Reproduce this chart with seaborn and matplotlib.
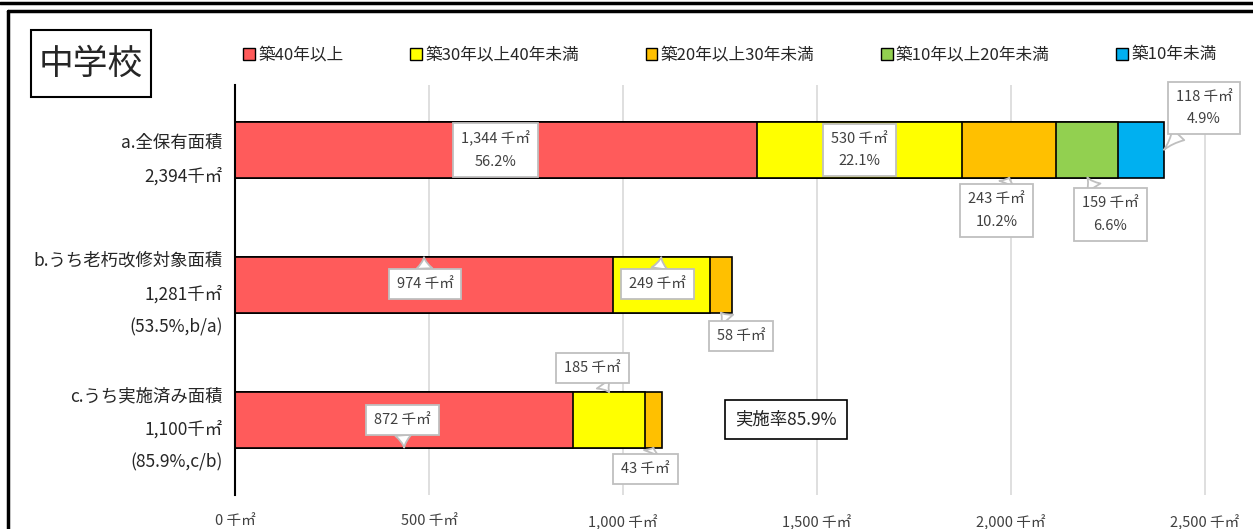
import numpy as np
import pandas as pd
import seaborn as sns
import matplotlib
matplotlib.use("Agg")
import matplotlib.pyplot as plt
from matplotlib.patches import Rectangle, Patch
from matplotlib.lines import Line2D

sns.set_theme(style="white")
plt.rcParams['font.family'] = ['Noto Sans CJK JP', 'DejaVu Sans']

# --- data -------------------------------------------------------------
categories = ["a.全保有面積\n2,394千㎡",
              "b.うち老朽改修対象面積\n1,281千㎡\n(53.5%,b/a)",
              "c.うち実施済み面積\n1,100千㎡\n(85.9%,c/b)"]
series_names = ["築40年以上", "築30年以上40年未満", "築20年以上30年未満",
                "築10年以上20年未満", "築10年未満"]
over40 = [1344, 974, 872]
y30_40 = [530, 249, 185]
y20_30 = [243, 58, 43]
y10_20 = [159, 0, 0]
under10 = [118, 0, 0]
share_a = [56.2, 22.1, 10.2, 6.6, 4.9]
x_ticks = [0, 500, 1000, 1500, 2000, 2500]
rate_text = "実施率85.9%"
title_text = "中学校"

colors = ["#FF5B5B", "#FFFF00", "#FFC000", "#92D050", "#00B0F0"]

series = [over40, y30_40, y20_30, y10_20, under10]
vals = np.array(series, dtype=float)          # shape (5, 3)
cum = np.cumsum(vals, axis=0)

W, H = 1253, 529
fig = plt.figure(figsize=(W / 100, H / 100), dpi=100)
fig.patch.set_facecolor("white")

ax_left, ax_right = 235 / W, 1240 / W
ax_top, ax_bot = 1 - 85 / H, 1 - 495 / H
ax = fig.add_axes([ax_left, ax_bot, ax_right - ax_left, ax_top - ax_bot])

# stacked bars: draw cumulative totals from the outermost segment inward
for i in range(len(series) - 1, -1, -1):
    df = pd.DataFrame({"cat": categories, "val": cum[i]})
    df.loc[vals[i] <= 0, "val"] = 0
    sns.barplot(data=df, x="val", y="cat", orient="h", color=colors[i],
                saturation=1, edgecolor="black", linewidth=1.2, width=0.41,
                ax=ax, zorder=3)

ax.set_xlim(0, 2590)
ax.set_ylim(2.556, -0.48)
ax.set_xlabel("")
ax.set_ylabel("")
ax.set_xticks(x_ticks)
ax.set_xticklabels([f"{t:,} 千㎡" for t in x_ticks], fontsize=10.5, color="#404040")
ax.tick_params(axis="x", length=0, pad=14)
ax.tick_params(axis="y", length=0, pad=9)
for t in ax.get_yticklabels():
    t.set_fontsize(12.5)
    t.set_linespacing(2.05)
    t.set_multialignment("right")
    t.set_color("#262626")
ax.grid(axis="x", color="#d9d9d9", linewidth=1.2, zorder=0)
for s in ["top", "right", "bottom"]:
    ax.spines[s].set_visible(False)
ax.spines["left"].set_color("black")
ax.spines["left"].set_linewidth(1.5)
ax.spines["left"].set_zorder(5)

# --- callout labels ---------------------------------------------------
half = 0.41 / 2
box = dict(boxstyle="square,pad=0.55", fc="white", ec="#bfbfbf", lw=1.3)
tail = dict(arrowstyle="wedge,tail_width=1.1,shrink_factor=0.35",
            fc="white", ec="#bfbfbf", lw=1.3, shrinkA=0, shrinkB=0)


def seg_center(i, j):
    return cum[i, j] - vals[i, j] / 2


def callout(text, xy, off, with_tail=True):
    ax.annotate(text, xy=xy, xytext=off, textcoords="offset pixels",
                ha="center", va="center", fontsize=10.5, color="#404040",
                linespacing=1.75, bbox=box,
                arrowprops=tail if with_tail else None, zorder=6)


def lab(v, p=None):
    s = f"{int(v):,} 千㎡"
    return s if p is None else f"{s}\n{p}%"


# bar a
callout(lab(vals[0, 0], share_a[0]), (seg_center(0, 0), 0), (0, 0), False)
callout(lab(vals[1, 0], share_a[1]), (seg_center(1, 0), 0), (0, 0), False)
callout(lab(vals[2, 0], share_a[2]), (seg_center(2, 0), half), (-13, -33))
callout(lab(vals[3, 0], share_a[3]), (seg_center(3, 0), half), (23, -37))
callout(lab(vals[4, 0], share_a[4]), (cum[4, 0], 0), (40, 42))
# bar b
callout(lab(vals[0, 1]), (seg_center(0, 1), 1 - half), (1, -27))
callout(lab(vals[1, 1]), (seg_center(1, 1), 1 - half), (-4, -27))
callout(lab(vals[2, 1]), (seg_center(2, 1), 1 + half), (20, -23))
# bar c
callout(lab(vals[0, 2]), (seg_center(0, 2), 2 + half), (-2, 28))
callout(lab(vals[1, 2]), (seg_center(1, 2), 2 - half), (-17, 24))
callout(lab(vals[2, 2]), (seg_center(2, 2), 2 + half), (-8, -21))

ax.text(1420, 2.0, rate_text, ha="center", va="center", fontsize=12.5,
        color="#262626", zorder=6,
        bbox=dict(boxstyle="square,pad=0.6", fc="white", ec="black", lw=1.2))

# --- legend ------------------------------------------------------------
handles = [Patch(facecolor=c, edgecolor="black", linewidth=1.0) for c in colors]
fig.legend(handles, series_names, loc="center", ncol=5,
           bbox_to_anchor=(730 / W, 1 - 55 / H), frameon=False,
           fontsize=12, handlelength=0.7, handleheight=0.7,
           handletextpad=0.2, columnspacing=4.0, labelcolor="#262626")

# --- title box and outer frame -----------------------------------------
fig.add_artist(Rectangle((31 / W, 1 - 97 / H), 120 / W, 67 / H,
                         transform=fig.transFigure, fill=False,
                         ec="black", lw=1.5))
fig.text(91 / W, 1 - 64 / H, title_text, ha="center", va="center",
         fontsize=25, color="#262626")

fig.add_artist(Line2D([0, 1], [1 - 3 / H, 1 - 3 / H], transform=fig.transFigure,
                      color="black", lw=2.5))
fig.add_artist(Line2D([8 / W, 1], [1 - 10.5 / H, 1 - 10.5 / H],
                      transform=fig.transFigure, color="black", lw=2.5))
fig.add_artist(Line2D([8 / W, 8 / W], [0, 1 - 10.5 / H],
                      transform=fig.transFigure, color="black", lw=2.5))

fig.savefig("out.png", dpi=100)
